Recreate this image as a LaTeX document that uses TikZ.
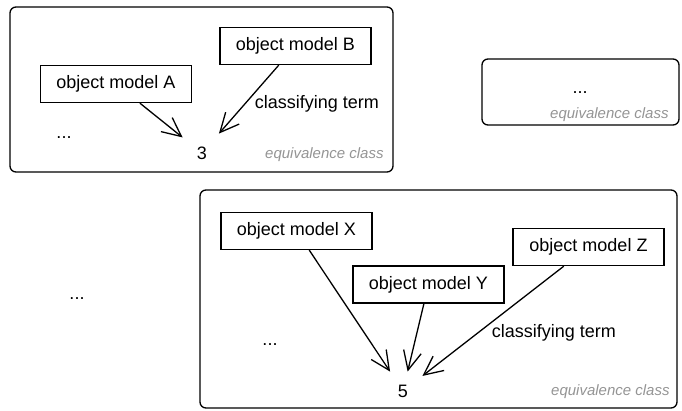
\documentclass[tikz,border=0pt]{standalone}
\usepackage{fontspec}
\setmainfont{Liberation Sans}
\usetikzlibrary{arrows.meta, positioning}

\begin{document}
\begin{tikzpicture}[x=0.5pt, y=-0.5pt,
        every node/.style={font=\fontsize{9}{11}\selectfont},
        model/.style={draw, line width=0.65pt, minimum width=75.5pt, minimum height=18.5pt, inner sep=0pt},
        eqclass/.style={draw, line width=0.65pt, rounded corners=3pt, inner sep=0pt},
        eqlabel/.style={anchor=east, inner sep=0pt, text=black!42, font=\fontsize{7.5}{9}\selectfont\itshape},
        number/.style={minimum size=19pt, inner sep=0pt},
        classify/.style={line width=0.65pt, -{Straight Barb[length=9.5pt, width=9pt, line width=0.65pt]}}]
                \useasboundingbox (0,0) rectangle (682,411);

                % equivalence classes
                \node (c1) [eqclass, minimum width=191.5pt, minimum height=82.5pt] at (201.5,89.5) {};
                \node (c2) [eqclass, minimum width=98.5pt, minimum height=33pt] at (580.5,92) {};
                \node (c3) [eqclass, minimum width=238.5pt, minimum height=109pt] at (438.5,299) {};
                \node (e1) [eqlabel] at (384,155) {equivalence class};
                \node (e2) [eqlabel] at (669,115) {equivalence class};
                \node (e3) [eqlabel] at (670,392) {equivalence class};

                % first class
                \node (mA) [model] at (116,84) {object model A};
                \node (mB) [model] at (295.5,46) {object model B};
                \node (n3) [number] at (202,153) {3};
                \node (d1) at (64,138) {...};
                \node (t1) at (317,104) {classifying term};

                % second class
                \node (d2) at (580,93) {...};

                % third class
                \node (mX) [model] at (296.5,231) {object model X};
                \node (mY) [model] at (428.5,284.5) {object model Y};
                \node (mZ) [model] at (588.5,247) {object model Z};
                \node (n5) [number] at (403,391) {5};
                \node (d3) at (270,345) {...};
                \node (t2) at (554,333) {classifying term};

                \node (d4) at (77,299) {...};

                \path [classify]
                    (mA) edge (n3)
                    (mB) edge (n3)
                    (mX) edge (n5)
                    (mY) edge (n5)
                    (mZ) edge (n5);
            \end{tikzpicture}
\end{document}
